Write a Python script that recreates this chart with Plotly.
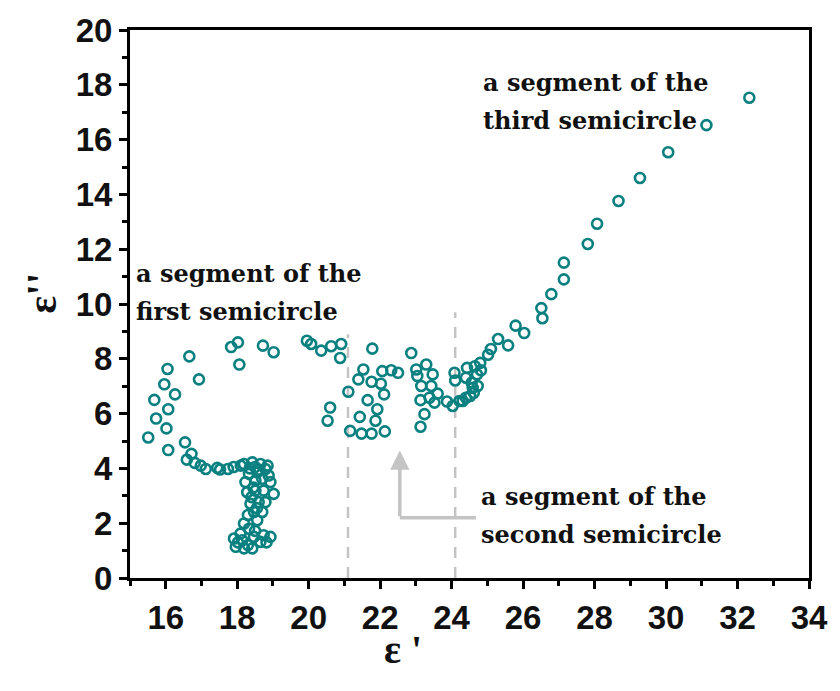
import plotly.graph_objects as go

# Cole-Cole plot: imaginary vs real permittivity
# first semicircle segment (low eps')
re_first = [15.51, 15.68, 15.73, 15.96, 16.02, 16.05, 16.07, 16.07, 16.26, 16.54,
            16.59, 16.66, 16.72, 16.81, 16.93, 16.98, 17.12, 17.44, 17.52, 17.74,
            17.90, 17.83, 18.02, 18.06, 18.72, 19.02,
            18.19, 18.42, 18.65, 18.79, 18.33, 18.56, 18.88, 18.23, 18.51, 18.70,
            18.93, 18.28, 18.51, 18.74, 19.02, 18.37, 18.60, 18.79, 18.47, 18.70,
            18.56, 18.19, 18.33, 18.09, 17.91, 18.14, 18.47, 18.74, 18.93, 17.96,
            18.19, 18.42, 18.65, 18.30, 18.50, 18.35, 18.62, 18.45, 18.40, 18.55,
            18.30, 18.50, 18.02, 18.82, 18.10, 18.85]
im_first = [5.13, 6.50, 5.82, 7.07, 5.46, 7.63, 6.16, 4.67, 6.70, 4.95,
            4.32, 8.09, 4.53, 4.20, 7.25, 4.10, 3.98, 4.02, 3.96, 3.98,
            4.05, 8.43, 8.60, 7.79, 8.48, 8.24,
            4.16, 4.22, 4.16, 3.98, 3.80, 3.86, 3.74, 3.50, 3.56, 3.62,
            3.50, 3.13, 3.19, 3.19, 3.07, 2.71, 2.77, 2.77, 2.41, 2.41,
            2.11, 1.99, 1.80, 1.62, 1.44, 1.38, 1.50, 1.56, 1.50, 1.14,
            1.08, 1.08, 1.32, 1.20, 4.05, 4.00, 3.95, 3.30, 2.95, 2.55,
            2.30, 1.72, 1.30, 1.30, 4.10, 4.10]

# second semicircle segment (middle eps')
re_second = [19.95, 20.07, 20.35, 20.63, 20.91, 20.88, 21.78, 21.53, 21.39, 21.76,
             22.06, 22.31, 22.50, 22.02, 21.11, 22.11, 21.65, 21.92, 20.60, 20.53,
             21.43, 21.87, 21.16, 21.48, 21.76, 22.13,
             22.87, 23.01, 23.29, 23.04, 23.47, 23.15, 23.43, 23.61, 23.13, 23.38,
             23.52, 23.87, 24.03, 23.24, 23.13, 24.10, 24.08, 24.43, 24.31, 24.56,
             24.62, 24.52, 24.71, 24.65, 24.80, 24.82, 24.40, 24.59, 24.40, 24.22,
             24.73]
im_second = [8.66, 8.54, 8.30, 8.46, 8.54, 8.03, 8.37, 7.61, 7.25, 7.16,
             7.55, 7.58, 7.49, 7.09, 6.80, 6.70, 6.49, 6.16, 6.22, 5.74,
             5.88, 5.74, 5.37, 5.27, 5.27, 5.35,
             8.21, 7.61, 7.79, 7.37, 7.43, 7.01, 7.01, 6.73, 6.49, 6.58,
             6.40, 6.44, 6.28, 5.98, 5.52, 7.21, 7.49, 7.67, 6.46, 7.13,
             6.76, 6.64, 7.43, 7.73, 7.85, 7.58, 7.31, 6.94, 6.58, 6.46,
             7.01]

# third semicircle segment (high eps')
re_third = [25.02, 25.10, 25.30, 25.58, 25.79, 26.03, 26.54, 26.51, 26.79, 27.14,
            27.14, 27.81, 28.07, 28.67, 29.27, 30.06, 31.13, 32.33]
im_third = [8.15, 8.36, 8.72, 8.49, 9.21, 8.94, 9.48, 9.85, 10.36, 10.90,
            11.51, 12.19, 12.93, 13.76, 14.60, 15.54, 16.53, 17.53]

# boundaries between segments
divider_x = [21.1, 24.1]
divider_top = [8.9, 9.7]

TEAL = "#0b8080"
GREY = "#c4c4c4"
SERIF = "DejaVu Serif"
SANS = "Liberation Sans"

fig = go.Figure()
for xs, ys in [(re_first, im_first), (re_second, im_second), (re_third, im_third)]:
    fig.add_trace(go.Scatter(
        x=xs, y=ys, mode="markers", showlegend=False,
        marker=dict(symbol="circle-open", size=10, color=TEAL,
                    line=dict(color=TEAL, width=2.6)),
    ))

for xv, top in zip(divider_x, divider_top):
    fig.add_shape(type="line", x0=xv, x1=xv, y0=0, y1=top, xref="x", yref="y",
                  line=dict(color=GREY, width=2.5, dash="11px,9px"), layer="below")

# bent arrow pointing at the second segment
fig.add_shape(type="line", x0=22.55, x1=24.68, y0=2.2, y1=2.2, xref="x", yref="y",
              line=dict(color=GREY, width=3.5))
fig.add_annotation(x=22.55, y=4.65, ax=22.55, ay=2.2, xref="x", yref="y",
                   axref="x", ayref="y", text="", showarrow=True,
                   arrowhead=2, arrowsize=1.1, arrowwidth=3.5, arrowcolor=GREY)

labels = [
    (15.10, 11.11, "a segment of the"), (15.10, 9.73, "first semicircle"),
    (24.81, 18.08, "a segment of the"), (24.81, 16.70, "third semicircle"),
    (24.76, 2.98, "a segment of the"), (24.76, 1.60, "second semicircle"),
]
for lx, ly, txt in labels:
    fig.add_annotation(x=lx, y=ly, xref="x", yref="y", text=txt, showarrow=False,
                       xanchor="left", yanchor="middle",
                       font=dict(family=SERIF, size=24, color="#111111", weight="bold"))

# axis titles
fig.add_annotation(x=22.65, y=-0.13, xref="x", yref="paper", text="ε '", showarrow=False,
                   xanchor="center", yanchor="middle",
                   font=dict(family="Liberation Serif", size=40, color="#111", weight="bold"))
fig.add_annotation(x=-0.13, y=10.4, xref="paper", yref="y", text="ε''", showarrow=False,
                   textangle=-90, xanchor="center", yanchor="middle",
                   font=dict(family="Liberation Serif", size=42, color="#111", weight="bold"))

axis_common = dict(
    showline=True, linecolor="black", linewidth=3, mirror=True,
    ticks="outside", ticklen=8, tickwidth=2.5, tickcolor="black",
    showgrid=False, zeroline=False,
    tickfont=dict(family=SANS, size=33, color="#111", weight="bold"),
)
fig.update_xaxes(range=[15, 34], tick0=0, dtick=2,
                 minor=dict(ticks="outside", ticklen=5, tickwidth=2.5, dtick=1, tick0=0,
                            tickcolor="black"),
                 **axis_common)
fig.update_yaxes(range=[0, 20], tick0=0, dtick=2,
                 minor=dict(ticks="outside", ticklen=5, tickwidth=2.5, dtick=1, tick0=0,
                            tickcolor="black"),
                 **axis_common)

fig.update_layout(
    width=840, height=691,
    margin=dict(l=130, r=27, t=27, b=113),
    paper_bgcolor="white", plot_bgcolor="white",
)

fig.write_html("out.html")
